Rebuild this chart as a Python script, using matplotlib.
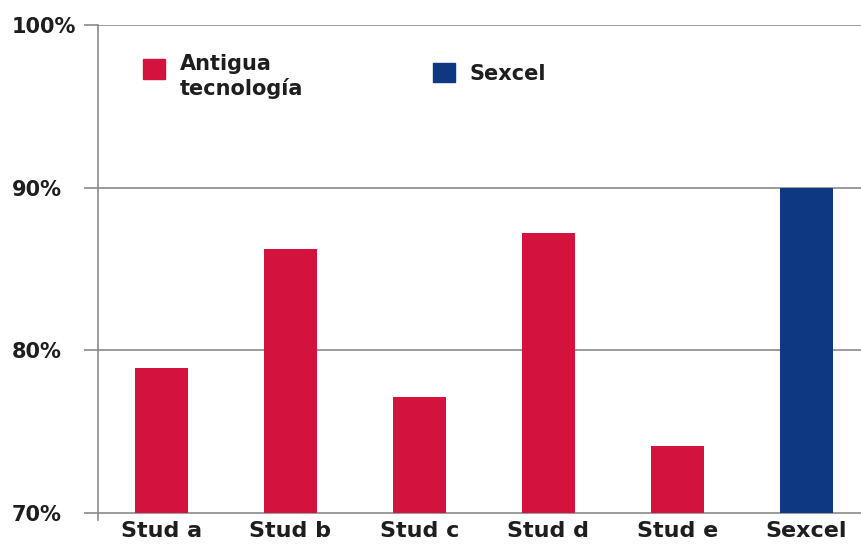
import matplotlib
matplotlib.use("Agg")
import matplotlib.pyplot as plt
from matplotlib.patches import Patch, Rectangle
from matplotlib.legend_handler import HandlerPatch

categories = ["Stud a", "Stud b", "Stud c", "Stud d", "Stud e", "Sexcel"]
values = [78.9, 86.2, 77.1, 87.2, 74.1, 90.0]
series = ["Antigua", "Antigua", "Antigua", "Antigua", "Antigua", "Sexcel"]
legend_labels = ["Antigua\ntecnología", "Sexcel"]
yticks = [70, 80, 90, 100]
ytick_labels = ["70%", "80%", "90%", "100%"]

RED = "#D3123E"
BLUE = "#0E3882"
colors = {"Antigua": RED, "Sexcel": BLUE}
GRID = "#8a8a8a"
TXT = "#1e1e1e"

plt.rcParams['font.family'] = ['DejaVu Sans']

fig = plt.figure(figsize=(8.62, 5.44), dpi=100)
ax = fig.add_axes([98/862, 1 - 520/544, 1 - 98/862, (520 - 25)/544])

base = 70
x = list(range(len(categories)))
ax.bar(x, [v - base for v in values], bottom=base, width=0.41,
       color=[colors[s] for s in series], zorder=3)

ax.set_ylim(69.55, 100)
ax.set_xlim(-0.49, 5.43)
ax.set_yticks(yticks)
ax.set_yticklabels(ytick_labels, fontsize=15, fontweight='bold', color=TXT,
                   ha='left')
ax.set_xticks(x)
ax.set_xticklabels(categories, fontsize=16, fontweight='bold', color=TXT)
ax.yaxis.grid(True, color=GRID, linewidth=1.2, zorder=1)
ax.tick_params(axis='y', length=10, width=1.2, color=GRID, pad=52)
ax.tick_params(axis='x', length=0, pad=1)
for s in ["top", "right", "bottom"]:
    ax.spines[s].set_visible(False)
ax.spines["left"].set_color(GRID)
ax.spines["left"].set_linewidth(1.2)


def raised_square(shift):
    def make(legend, orig_handle, xdescent, ydescent, width, height, fontsize):
        return Rectangle((-xdescent, -ydescent + shift), width, height)
    return HandlerPatch(patch_func=make)


h1 = Patch(color=RED)
h2 = Patch(color=BLUE)
common = dict(loc="upper left", frameon=False,
              prop={'size': 15, 'weight': 'bold'}, handlelength=1.05,
              handleheight=1.05, handletextpad=0.7, labelcolor=TXT)
leg1 = ax.legend([h1], [legend_labels[0]], bbox_to_anchor=(0.035, 0.979),
                 handler_map={h1: raised_square(6)}, **common)
ax.add_artist(leg1)
ax.legend([h2], [legend_labels[1]], bbox_to_anchor=(0.414, 0.961), **common)

fig.savefig("out.png", dpi=100)
